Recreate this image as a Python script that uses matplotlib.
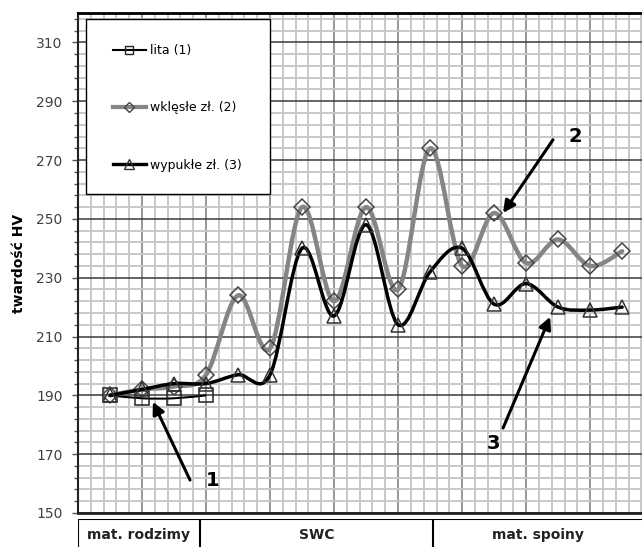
import matplotlib
matplotlib.use('Agg')
import matplotlib.pyplot as plt
import numpy as np
from matplotlib.path import Path
from matplotlib.patches import PathPatch, Rectangle
from matplotlib.lines import Line2D
from matplotlib.ticker import FixedLocator

# measurement points (index along the sample)
x_lita = [0, 1, 2, 3]
hv_lita = [190, 189, 189, 190]

x_pts = list(range(17))
hv_wklesle = [190, 192, 193, 197, 224, 206, 254, 222, 254, 226, 274, 234, 252, 235, 243, 234, 239]
hv_wypukle = [190, 192, 194, 194, 197, 197, 240, 217, 248, 214, 232, 240, 221, 228, 220, 219, 220]

labels = ['lita (1)', 'wklęsłe zł. (2)', 'wypukłe zł. (3)']
zones = ['mat. rodzimy', 'SWC', 'mat. spoiny']
zone_edges = [-1, 2.8, 10.1, 16.62]

y_label = 'twardość HV'


def smooth_path(xs, ys):
    # Excel-like smoothed line (Catmull-Rom as cubic Bezier)
    pts = np.column_stack([xs, ys]).astype(float)
    n = len(pts)
    verts = [pts[0]]
    codes = [Path.MOVETO]
    for k in range(n - 1):
        p0 = pts[max(k - 1, 0)]
        p1 = pts[k]
        p2 = pts[k + 1]
        p3 = pts[min(k + 2, n - 1)]
        verts += [p1 + (p2 - p0) / 6, p2 - (p3 - p1) / 6, p2]
        codes += [Path.CURVE4] * 3
    return Path(verts, codes)


fig = plt.figure(figsize=(6.42, 5.47), dpi=100)
ax = fig.add_axes([78 / 642, 1 - 513 / 547, 1 - 78 / 642, 500 / 547])

ax.set_xlim(-1, 16.62)
ax.set_ylim(150, 320)

ax.set_yticks(np.arange(150, 311, 20))
ax.yaxis.set_minor_locator(FixedLocator(np.arange(150, 321, 4)))
ax.set_xticks(np.arange(-1, 16, 2))
ax.xaxis.set_minor_locator(FixedLocator(np.arange(-1, 16.7, 0.4)))

ax.grid(which='minor', color='#c8c8c8', lw=1.4)
ax.yaxis.grid(which='major', color='#3a3a3a', lw=1.1)
ax.xaxis.grid(which='major', color='#7a7a7a', lw=1.1)
ax.set_axisbelow(True)

ax.tick_params(axis='x', which='both', length=0, labelbottom=False)
ax.tick_params(axis='y', which='major', length=4, width=1, color='#555555',
               labelsize=10, labelcolor='#404040', pad=7)
ax.tick_params(axis='y', which='minor', length=3, width=1, color='#555555')

ax.spines['right'].set_visible(False)
ax.spines['top'].set_linewidth(2)
ax.spines['left'].set_linewidth(1.5)
ax.spines['bottom'].set_linewidth(2)
ax.spines['left'].set_color('#222222')
ax.spines['bottom'].set_color('#222222')

ax.set_ylabel(y_label, fontsize=10, fontweight='bold')
ax.yaxis.set_label_coords(-0.093, 0.5)

# series 1
ax.add_patch(PathPatch(smooth_path(x_lita, hv_lita), fill=False, edgecolor='black', lw=1.5, zorder=3))
ax.plot(x_lita, hv_lita, ls='none', marker='s', ms=10, mfc='none', mec='#222222', mew=1.1, zorder=4)

# series 2
ax.add_patch(PathPatch(smooth_path(x_pts, hv_wklesle), fill=False, edgecolor='#858585', lw=3.2,
                       capstyle='round', joinstyle='round', zorder=5))
ax.plot(x_pts, hv_wklesle, ls='none', marker='D', ms=8, mfc='none', mec='#444444', mew=1.1, zorder=6)

# series 3
ax.add_patch(PathPatch(smooth_path(x_pts, hv_wypukle), fill=False, edgecolor='black', lw=2.5,
                       capstyle='round', joinstyle='round', zorder=7))
ax.plot(x_pts, hv_wypukle, ls='none', marker='^', ms=10, mfc='none', mec='#333333', mew=1.1, zorder=8)

# legend
fig.add_artist(Rectangle((86 / 642, 1 - 194 / 547), 184 / 642, 175 / 547, transform=fig.transFigure,
                         fill=True, facecolor='white', edgecolor='black', lw=1, zorder=9))
handles = [
    Line2D([], [], color='black', lw=1.5, marker='s', ms=6, mfc='none', mec='#222222'),
    Line2D([], [], color='#858585', lw=3, marker='D', ms=5, mfc='none', mec='#444444'),
    Line2D([], [], color='black', lw=2.4, marker='^', ms=7, mfc='none', mec='#333333'),
]
leg = fig.legend(handles, labels, loc='upper left', bbox_to_anchor=(113 / 642, 1 - 44 / 547),
                 frameon=False, fontsize=9, handlelength=2.6, handletextpad=0.4,
                 labelspacing=3.55, borderpad=0, borderaxespad=0)
leg.set_zorder(10)

# arrows with numbers
arrows = [((1.34, 187.8), (2.5, 161.2), (3.2, 161.2), '1'),
          ((12.28, 252.0), (13.84, 276.9), (14.55, 278.0), '2'),
          ((13.75, 216.7), (12.28, 178.9), (11.97, 173.6), '3')]
for head, tail, pos, txt in arrows:
    ax.annotate('', xy=head, xytext=tail,
                arrowprops=dict(arrowstyle='-|>', lw=2.2, color='black', mutation_scale=18,
                                shrinkA=0, shrinkB=0), zorder=12)
    ax.text(pos[0], pos[1], txt, fontsize=14, fontweight='bold', ha='center', va='center', zorder=12)

# zone table under the x axis
zax = fig.add_axes([78 / 642, 0, 1 - 78 / 642, 28 / 547], sharex=ax)
zax.set_ylim(0, 1)
zax.axis('off')
zax.axhline(1, color='black', lw=1.5)
for e in zone_edges[:-1]:
    zax.axvline(e, color='black', lw=1.5)
for k, name in enumerate(zones):
    zax.text((zone_edges[k] + zone_edges[k + 1]) / 2, 0.42, name, fontsize=10,
             fontweight='bold', ha='center', va='center', color='#222222')
ax.set_xlim(-1, 16.62)

fig.savefig('out.png', dpi=100)
